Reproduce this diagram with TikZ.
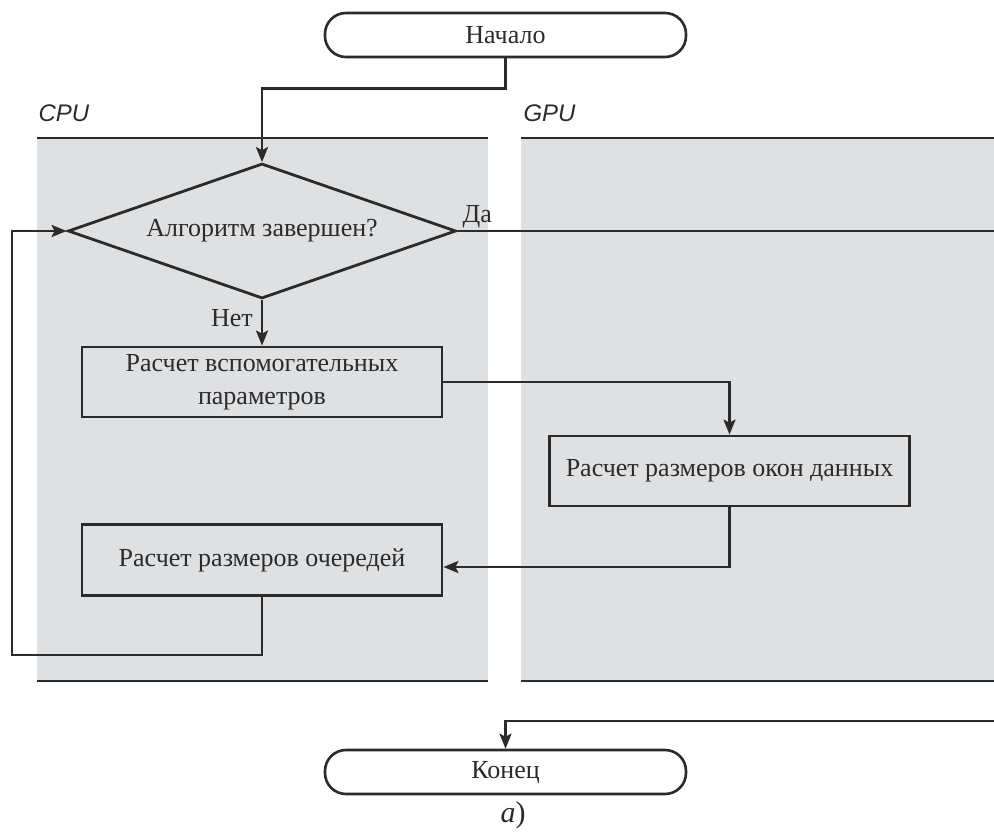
\documentclass[tikz,border=0pt]{standalone}
\usepackage{fontspec}
\setmainfont{Liberation Serif}
\setsansfont{Liberation Sans}
\usetikzlibrary{shapes.geometric,arrows.meta}

\definecolor{ink}{HTML}{2B2B2B}
\definecolor{lane}{HTML}{DFE0E2}

\begin{document}
\begin{tikzpicture}[x=1pt,y=-1pt,
  every node/.style={text=ink,font=\fontsize{26}{31}\selectfont},
  term/.style={draw=ink,line width=2.6pt,fill=white,rounded corners=21pt,
               minimum width=361pt,minimum height=44pt,inner sep=0pt},
  proc/.style={draw=ink,line width=2.8pt,minimum width=360pt,inner sep=0pt,
               align=center},
  decision/.style={draw=ink,line width=2.8pt,diamond,aspect=2.87,
               minimum width=388pt,minimum height=135pt,inner sep=0pt},
  flow/.style={draw=ink,line width=2.6pt},
  arr/.style={flow,-{Stealth[length=15pt,width=12pt,inset=3pt]}},
  lanelabel/.style={anchor=west,font=\sffamily\itshape\fontsize{24}{28}\selectfont},
  laneedge/.style={draw=ink,line width=2.8pt}]

\useasboundingbox (0,0) rectangle (994,835);

% swimlanes
\fill[lane] (37,138) rectangle (488,681);
\fill[lane] (521,138) rectangle (994,681);
\draw[laneedge] (37,138) -- (488,138);
\draw[laneedge] (37,681) -- (488,681);
\draw[laneedge] (521,138) -- (994,138);
\draw[laneedge] (521,681) -- (994,681);
\node[lanelabel] (cpu) at (35,113) {CPU};
\node[lanelabel] (gpu) at (520,113) {GPU};

% blocks
\node[term] (start) at (505.5,35) {Начало};
\node[decision] (dec) at (262,231) {Алгоритм завершен?};
\node[proc,minimum height=70pt] (box1) at (262,382)
  {Расчет вспомогательных\\[2pt]параметров};
\node[proc,minimum height=70pt] (box2) at (729.5,471) {Расчет размеров окон данных};
\node[proc,minimum height=71pt] (box3) at (262,560) {Расчет размеров очередей};
\node[term] (stop) at (505.5,772) {Конец};
\node[font=\fontsize{30}{34}\selectfont] (cap) at (513,815) {\textit{а})};

% free ends at the right edge and the loop corner
\coordinate (yesout) at (994,231);
\coordinate (stopin) at (994,721);
\coordinate (loopc) at (12,655);

% connectors
\draw[arr] (start.south) -- ++(0,30) -| (dec.north);
\draw[flow] (dec.east) -- (yesout);
\node[anchor=south west,inner sep=0pt] (yes) at ([xshift=5pt,yshift=3pt]dec.east) {Да};
\draw[arr] (dec.south) -- (box1.north);
\node[anchor=east,inner sep=0pt] (no) at (253,318) {Нет};
\draw[arr] (box1.east) -| (box2.north);
\draw[arr] (box2.south) |- ([yshift=-7pt]box3.east);
\draw[arr] (box3.south) |- (loopc) |- (dec.west);
\draw[arr] (stopin) -| (stop.north);

\end{tikzpicture}
\end{document}
